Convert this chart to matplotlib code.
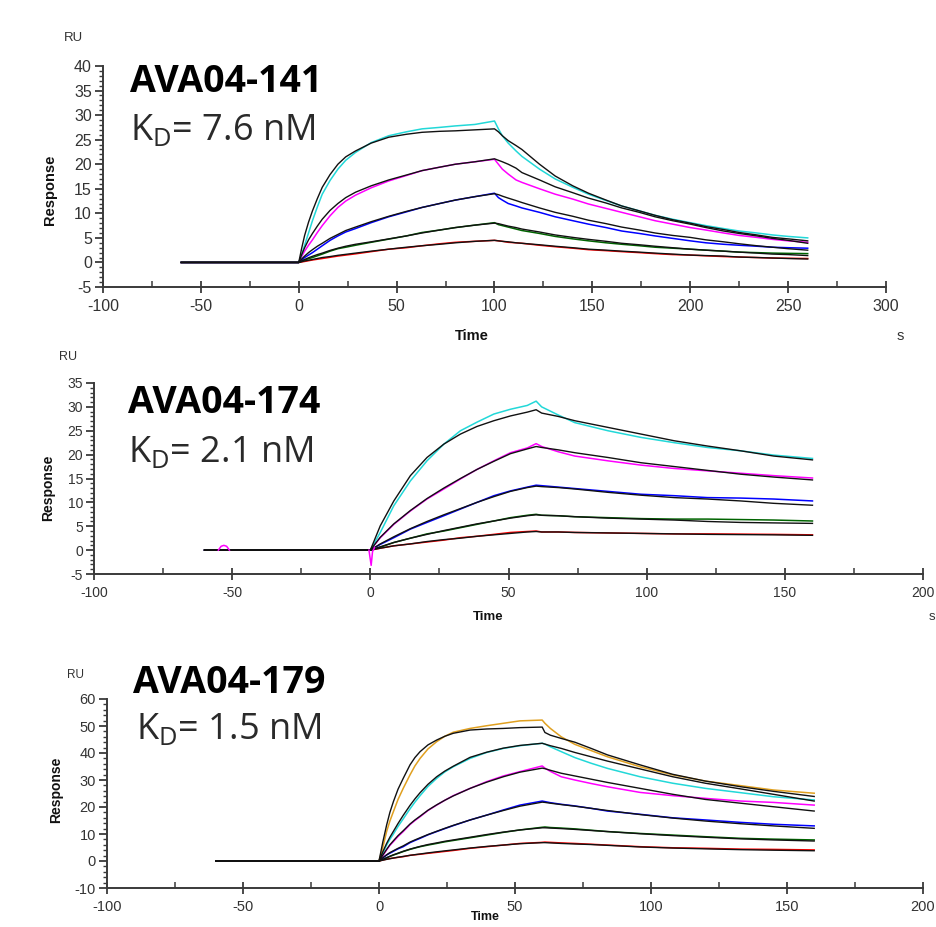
import matplotlib
matplotlib.use('Agg')
import matplotlib.pyplot as plt
from matplotlib.ticker import MultipleLocator

plt.rcParams['font.family'] = ['Liberation Sans', 'DejaVu Sans']
plt.rcParams['axes.unicode_minus'] = False
plt.rcParams['mathtext.fontset'] = 'custom'
plt.rcParams['mathtext.rm'] = 'Open Sans'

# --- sensorgram colours (lowest to highest concentration) ---
RED = '#ff0000'
GREEN = '#006400'
BLUE = '#0000ff'
MAGENTA = '#ff00ff'
CYAN = '#22d8d8'
ORANGE = '#e0a020'

# ---------------- AVA04-141 ----------------
P1_TIME = [-60, 0, 1.5, 3, 5, 7, 9.5, 12, 16, 20, 24, 29, 37, 46, 55, 63, 72, 80, 90, 100,
           102, 104, 107, 111, 114, 123, 131, 140, 148, 157, 165, 174, 182,
           191, 200, 208, 217, 225, 234, 242, 250, 260]
P1_RED = [0, 0, 0.1, 0.2, 0.35, 0.5, 0.65, 0.8, 1.05, 1.3, 1.5, 1.75, 2.2, 2.7, 3.0, 3.4, 3.8, 4.1, 4.3, 4.5,
          4.4, 4.3, 4.1, 4.0, 3.9, 3.5, 3.2, 2.9, 2.6, 2.4, 2.2, 2.0, 1.8,
          1.6, 1.5, 1.35, 1.2, 1.1, 1.0, 0.9, 0.85, 0.8]
P1_RED_FIT = [0, 0, 0.15, 0.3, 0.45, 0.6, 0.8, 1.0, 1.2, 1.45, 1.65, 1.9, 2.3, 2.7, 3.1, 3.4, 3.7, 4.0, 4.3, 4.5,
              4.4, 4.3, 4.2, 4.0, 3.9, 3.6, 3.3, 3.0, 2.7, 2.5, 2.3, 2.1, 1.9,
              1.7, 1.5, 1.4, 1.3, 1.1, 1.0, 0.9, 0.8, 0.7]
P1_GREEN = [0, 0, 0.25, 0.5, 0.75, 1.0, 1.35, 1.7, 2.3, 2.8, 3.1, 3.5, 4.1, 4.75, 5.4, 6.1, 6.6, 7.1, 7.6, 8.1,
            7.7, 7.5, 7.2, 6.8, 6.5, 5.9, 5.3, 4.8, 4.4, 4.0, 3.7, 3.4, 3.1,
            2.9, 2.7, 2.5, 2.3, 2.1, 2.0, 1.9, 1.85, 1.8]
P1_GREEN_FIT = [0, 0, 0.3, 0.6, 0.95, 1.25, 1.6, 1.9, 2.45, 2.9, 3.3, 3.7, 4.2, 4.8, 5.4, 6.0, 6.6, 7.1, 7.6, 8.0,
                7.9, 7.7, 7.4, 7.1, 6.8, 6.2, 5.6, 5.1, 4.7, 4.3, 3.9, 3.6, 3.3,
                3.0, 2.7, 2.5, 2.3, 2.1, 1.9, 1.7, 1.6, 1.4]
P1_BLUE = [0, 0, 0.5, 1.0, 1.5, 2.0, 2.7, 3.4, 4.5, 5.4, 6.2, 6.9, 8.1, 9.3, 10.3, 11.2, 12.0, 12.7, 13.4, 14.1,
           13.2, 12.7, 12.0, 11.5, 11.1, 10.2, 9.3, 8.5, 7.8, 7.1, 6.4, 5.9, 5.4,
           4.9, 4.4, 4.0, 3.7, 3.5, 3.3, 3.1, 3.0, 2.9]
P1_BLUE_FIT = [0, 0, 0.7, 1.3, 2.0, 2.6, 3.3, 3.9, 4.9, 5.7, 6.5, 7.2, 8.3, 9.4, 10.4, 11.2, 12.0, 12.7, 13.4, 14.0,
               13.8, 13.5, 13.1, 12.6, 12.2, 11.1, 10.2, 9.4, 8.6, 7.9, 7.2, 6.6, 6.0,
               5.5, 5.1, 4.6, 4.2, 3.8, 3.4, 3.1, 2.8, 2.5]
P1_MAGENTA = [0, 0, 1.2, 2.3, 3.5, 4.6, 6.1, 7.5, 9.5, 11.2, 12.5, 13.7, 15.2, 16.6, 17.7, 18.7, 19.4, 20.0, 20.5, 21.0,
              20.0, 19.0, 18.0, 16.8, 16.3, 15.0, 13.9, 12.9, 11.9, 11.0, 10.2, 9.3, 8.5,
              7.8, 7.1, 6.6, 6.0, 5.5, 5.1, 4.7, 4.4, 4.1]
P1_MAGENTA_FIT = [0, 0, 1.6, 3.0, 4.6, 5.9, 7.4, 8.8, 10.6, 12.0, 13.2, 14.3, 15.6, 16.8, 17.8, 18.7, 19.4, 20.0, 20.5, 21.1,
                  20.8, 20.5, 20.0, 19.2, 18.3, 16.8, 15.4, 14.2, 13.1, 12.1, 11.1, 10.2, 9.3,
                  8.5, 7.8, 7.1, 6.4, 5.9, 5.4, 4.9, 4.5, 3.9]
P1_CYAN = [0, 0, 1.6, 3.5, 6.0, 8.5, 11.3, 13.9, 16.7, 19.0, 20.8, 22.4, 24.4, 25.8, 26.6, 27.2, 27.5, 27.8, 28.1, 28.8,
           27.2, 25.8, 24.3, 22.7, 21.6, 19.0, 17.0, 15.3, 13.9, 12.6, 11.5, 10.5, 9.6,
           8.8, 8.1, 7.5, 6.9, 6.4, 6.0, 5.6, 5.3, 5.0]
P1_CYAN_FIT = [0, 0, 2.9, 5.5, 8.2, 10.5, 13.0, 15.3, 17.9, 20.0, 21.5, 22.7, 24.3, 25.5, 26.1, 26.5, 26.7, 26.8, 27.0, 27.2,
               26.6, 25.8, 24.8, 23.8, 23.0, 20.0, 17.6, 15.6, 14.1, 12.7, 11.5, 10.5, 9.6,
               8.7, 8.0, 7.3, 6.7, 6.1, 5.6, 5.1, 4.8, 4.4]

# ---------------- AVA04-174 ----------------
P2_TIME = [-60, 0, 3.6, 8.5, 14.5, 20.5, 26.6, 32.6, 38.6, 44.7, 50.7, 56.8, 60,
           62, 68, 74, 86, 98, 110, 122, 134, 146, 160]
P2_RED = [0, 0, 0.4, 0.9, 1.3, 1.7, 2.1, 2.6, 2.9, 3.3, 3.7, 3.9, 4.0,
          3.8, 3.8, 3.7, 3.6, 3.5, 3.4, 3.4, 3.35, 3.3, 3.2]
P2_RED_FIT = [0, 0, 0.4, 0.9, 1.3, 1.8, 2.2, 2.5, 2.9, 3.2, 3.5, 3.8, 3.9,
              3.8, 3.8, 3.7, 3.6, 3.5, 3.4, 3.3, 3.25, 3.2, 3.1]
P2_GREEN = [0, 0, 0.6, 1.6, 2.5, 3.4, 4.0, 4.7, 5.4, 6.1, 6.8, 7.3, 7.5,
            7.3, 7.2, 7.0, 6.8, 6.6, 6.5, 6.5, 6.4, 6.3, 6.1]
P2_GREEN_FIT = [0, 0, 0.7, 1.6, 2.5, 3.3, 4.1, 4.8, 5.5, 6.1, 6.7, 7.2, 7.4,
                7.3, 7.2, 7.0, 6.7, 6.5, 6.3, 6.0, 5.8, 5.7, 5.6]
P2_BLUE = [0, 0, 1.2, 2.6, 4.4, 5.8, 7.2, 8.6, 10.0, 11.4, 12.4, 13.2, 13.6,
           13.5, 13.2, 12.9, 12.3, 11.7, 11.4, 11.0, 10.9, 10.7, 10.3]
P2_BLUE_FIT = [0, 0, 1.3, 2.8, 4.5, 6.0, 7.4, 8.7, 10.0, 11.2, 12.3, 13.1, 13.4,
               13.3, 13.1, 12.8, 12.1, 11.5, 11.0, 10.7, 10.3, 9.8, 9.4]
P2_MAGENTA = [0, 0, 2.6, 5.4, 8.2, 10.7, 12.8, 14.9, 16.9, 18.7, 20.4, 21.4, 22.3,
              21.7, 20.6, 19.7, 18.7, 17.8, 17.1, 16.6, 16.1, 15.6, 15.1]
P2_MAGENTA_FIT = [0, 0, 2.7, 5.5, 8.3, 10.8, 13.0, 15.0, 16.9, 18.6, 20.2, 21.2, 21.7,
                  21.5, 21.0, 20.4, 19.4, 18.3, 17.5, 16.7, 15.9, 15.3, 14.7]
P2_CYAN = [0, 0, 3.7, 9.3, 14.5, 18.7, 22.2, 25.0, 26.8, 28.5, 29.5, 30.3, 31.2,
           30.0, 28.3, 26.7, 25.0, 23.6, 22.5, 21.5, 20.8, 19.9, 19.2]
P2_CYAN_FIT = [0, 0, 5.1, 10.3, 15.6, 19.4, 22.2, 24.3, 25.9, 27.1, 28.1, 28.9, 29.4,
               28.7, 28.0, 27.1, 25.7, 24.3, 22.9, 21.8, 20.8, 19.7, 18.9]
# baseline artefacts of the magenta trace
P2_MAG_BLIP_T = [-55, -54, -53, -52, -51]
P2_MAG_BLIP_V = [0, 0.8, 1.0, 0.8, 0]
P2_MAG_DIP_T = [-0.5, 0.3, 0.8, 1.5]
P2_MAG_DIP_V = [0, -3.2, -0.3, 0.5]

# ---------------- AVA04-179 ----------------
P3_TIME = [-60, 0, 1.4, 2.8, 4.0, 5.3, 7.0, 8.9, 11.4, 13.2, 15.1, 18.0, 21.2, 24.2, 27.3,
           33.5, 39.6, 45.7, 51.8, 60,
           61, 63, 67, 72, 78, 84, 96, 108, 120, 133, 145, 160]
P3_RED = [0, 0, 0.35, 0.7, 0.9, 1.1, 1.35, 1.6, 2.1, 2.3, 2.5, 2.85, 3.2, 3.55, 3.9,
          4.7, 5.3, 5.9, 6.5, 6.9,
          7.0, 6.9, 6.7, 6.5, 6.2, 5.9, 5.3, 4.9, 4.7, 4.4, 4.3, 4.1]
P3_RED_FIT = [0, 0, 0.3, 0.6, 0.85, 1.1, 1.4, 1.7, 2.1, 2.35, 2.6, 3.0, 3.4, 3.75, 4.1,
              4.8, 5.4, 5.9, 6.4, 6.8,
              6.8, 6.7, 6.5, 6.3, 6.1, 5.8, 5.2, 4.8, 4.5, 4.2, 4.0, 3.8]
P3_GREEN = [0, 0, 0.6, 1.2, 1.7, 2.2, 2.8, 3.5, 4.3, 4.8, 5.3, 5.9, 6.5, 7.1, 7.6,
            8.6, 9.6, 10.6, 11.5, 12.5,
            12.6, 12.4, 12.2, 11.9, 11.4, 10.9, 10.2, 9.6, 9.0, 8.4, 8.1, 7.8]
P3_GREEN_FIT = [0, 0, 0.6, 1.2, 1.75, 2.3, 2.9, 3.6, 4.4, 4.9, 5.4, 6.1, 6.7, 7.3, 7.8,
                8.8, 9.8, 10.7, 11.5, 12.3,
                12.3, 12.2, 12.0, 11.7, 11.3, 10.9, 10.1, 9.4, 8.8, 8.2, 7.8, 7.4]
P3_BLUE = [0, 0, 1.1, 2.2, 2.9, 3.6, 4.5, 5.3, 6.8, 7.6, 8.4, 9.7, 10.9, 12.0, 13.1,
           15.2, 17.0, 18.9, 20.7, 22.2,
           22.0, 21.6, 21.0, 20.4, 19.5, 18.5, 17.3, 16.0, 15.2, 14.3, 13.6, 13.0]
P3_BLUE_FIT = [0, 0, 1.2, 2.3, 3.1, 3.8, 4.7, 5.6, 7.0, 7.8, 8.6, 9.8, 11.0, 12.1, 13.2,
               15.2, 17.0, 18.7, 20.3, 21.8,
               21.7, 21.4, 20.9, 20.3, 19.5, 18.7, 17.2, 15.9, 14.8, 13.8, 13.0, 12.1]
P3_MAGENTA = [0, 0, 2.0, 4.1, 5.8, 7.2, 9.1, 10.9, 13.5, 15.0, 16.4, 18.7, 20.7, 22.5, 24.2,
              26.9, 29.4, 31.5, 33.1, 35.2,
              34.4, 33.2, 31.2, 30.0, 28.7, 27.5, 25.4, 24.2, 23.2, 22.2, 21.7, 20.7]
P3_MAGENTA_FIT = [0, 0, 2.2, 4.3, 6.0, 7.5, 9.4, 11.2, 13.7, 15.2, 16.6, 18.8, 20.8, 22.5, 24.1,
                  26.9, 29.2, 31.2, 32.9, 34.4,
                  34.2, 33.6, 32.5, 31.5, 30.3, 29.1, 26.9, 24.7, 22.8, 21.4, 20.1, 18.5]
P3_CYAN = [0, 0, 3.0, 5.9, 8.0, 10.0, 12.8, 15.6, 19.3, 21.8, 24.2, 27.6, 30.6, 33.0, 34.9,
           38.0, 40.2, 41.7, 42.7, 43.6,
           43.3, 42.3, 40.5, 38.3, 36.2, 34.3, 31.2, 28.8, 26.9, 25.3, 23.8, 22.6]
P3_CYAN_FIT = [0, 0, 3.4, 6.5, 8.8, 11.0, 13.9, 16.9, 20.6, 23.0, 25.3, 28.4, 31.2, 33.3, 35.1,
               38.4, 40.3, 41.8, 42.8, 43.6,
               43.3, 42.7, 41.7, 40.2, 38.6, 37.0, 34.1, 31.2, 28.8, 26.7, 24.7, 22.2]
P3_ORANGE = [0, 0, 5.0, 10.9, 14.8, 18.3, 22.8, 26.9, 31.9, 35.2, 38.0, 41.5, 44.2, 46.2, 47.7,
             49.1, 50.1, 51.0, 51.9, 52.2,
             51.0, 49.1, 46.0, 43.2, 40.9, 38.6, 34.9, 31.9, 29.6, 27.9, 26.3, 25.1]
P3_ORANGE_FIT = [0, 0, 7.0, 13.3, 18.0, 22.0, 26.6, 30.6, 35.6, 38.3, 40.5, 43.0, 44.8, 46.2, 47.3,
                 48.5, 48.9, 49.1, 49.4, 49.6,
                 47.6, 46.6, 45.4, 44.0, 41.7, 39.3, 35.6, 32.1, 29.6, 27.5, 25.8, 23.9]

TITLES = ['AVA04-141', 'AVA04-174', 'AVA04-179']
KD_LABELS = [r'K$_\mathrm{D}$= 7.6 nM', r'K$_\mathrm{D}$= 2.1 nM', r'K$_\mathrm{D}$= 1.5 nM']

W, H = 937, 927
AX_COLOR = '#3a3a3a'
TICK_COLOR = '#333333'


def fx(px):
    return px / W


def fy(py):
    return 1 - py / H


def setup_axes(rect_px, xlim, ylim, ymajor, yminor, tick_size):
    """rect_px = (left, top, right, bottom) in image pixels"""
    l, t, r, b = rect_px
    ax = fig.add_axes([fx(l), fy(b), (r - l) / W, (b - t) / H])
    ax.set_xlim(*xlim)
    ax.set_ylim(*ylim)
    for s in ('top', 'right'):
        ax.spines[s].set_visible(False)
    for s in ('left', 'bottom'):
        ax.spines[s].set_color(AX_COLOR)
        ax.spines[s].set_linewidth(1.4)
    ax.xaxis.set_major_locator(MultipleLocator(50))
    ax.xaxis.set_minor_locator(MultipleLocator(25))
    ax.yaxis.set_major_locator(MultipleLocator(ymajor))
    ax.yaxis.set_minor_locator(MultipleLocator(yminor))
    ax.tick_params(axis='x', which='major', direction='inout', length=9, width=1.3,
                   color=AX_COLOR, labelsize=tick_size, labelcolor=TICK_COLOR, pad=4)
    ax.tick_params(axis='x', which='minor', direction='in', length=4, width=1.1, color=AX_COLOR)
    ax.tick_params(axis='y', which='major', direction='out', length=6, width=1.3,
                   color=AX_COLOR, labelsize=tick_size, labelcolor=TICK_COLOR, pad=2)
    ax.tick_params(axis='y', which='minor', direction='out', length=3, width=1.0, color=AX_COLOR)
    ax.patch.set_alpha(0)
    return ax


def draw_traces(ax, time, traces):
    # measured curves first, black fitted curves on top
    for values, fit, color in traces:
        ax.plot(time, values, color=color, lw=1.1, zorder=2)
    for values, fit, color in traces:
        ax.plot(time, fit, color='#111111', lw=1.0, zorder=3)


fig = plt.figure(figsize=(W / 100, H / 100), dpi=100)

# panel 1
ax1 = setup_axes((103, 66, 886, 287), (-100, 300), (-5, 40), 5, 1, 11.5)
draw_traces(ax1, P1_TIME, [
    (P1_RED, P1_RED_FIT, RED),
    (P1_GREEN, P1_GREEN_FIT, GREEN),
    (P1_BLUE, P1_BLUE_FIT, BLUE),
    (P1_MAGENTA, P1_MAGENTA_FIT, MAGENTA),
    (P1_CYAN, P1_CYAN_FIT, CYAN),
])

# panel 2
ax2 = setup_axes((94, 383, 923, 574), (-100, 200), (-5, 35), 5, 1, 10)
draw_traces(ax2, P2_TIME, [
    (P2_RED, P2_RED_FIT, RED),
    (P2_GREEN, P2_GREEN_FIT, GREEN),
    (P2_BLUE, P2_BLUE_FIT, BLUE),
    (P2_MAGENTA, P2_MAGENTA_FIT, MAGENTA),
    (P2_CYAN, P2_CYAN_FIT, CYAN),
])
ax2.plot(P2_MAG_BLIP_T, P2_MAG_BLIP_V, color=MAGENTA, lw=1.1, zorder=4)
ax2.plot(P2_MAG_DIP_T, P2_MAG_DIP_V, color=MAGENTA, lw=1.1, zorder=4)

# panel 3
ax3 = setup_axes((107, 699, 923, 888), (-100, 200), (-10, 60), 10, 2, 10.5)
draw_traces(ax3, P3_TIME, [
    (P3_RED, P3_RED_FIT, RED),
    (P3_GREEN, P3_GREEN_FIT, GREEN),
    (P3_BLUE, P3_BLUE_FIT, BLUE),
    (P3_MAGENTA, P3_MAGENTA_FIT, MAGENTA),
    (P3_CYAN, P3_CYAN_FIT, CYAN),
    (P3_ORANGE, P3_ORANGE_FIT, ORANGE),
])

# axis captions placed like the instrument software export
captions = [
    # (RU x,y), (Response x,y), (Time x,y), (s x,y), size
    ((73, 38), (50, 190), (472, 336), (900, 336), 10.5),
    ((68, 357), (48, 488), (488, 617), (932, 617), 9.5),
    ((76, 675), (56, 790), (485, 917), (None, None), 9),
]
for (ru, resp, tim, s, size) in captions:
    fig.text(fx(ru[0]), fy(ru[1]), 'RU', ha='center', va='center', fontsize=min(size, 10) - 0.5,
             color=TICK_COLOR)
    fig.text(fx(resp[0]), fy(resp[1]), 'Response', ha='center', va='center', rotation=90,
             fontsize=max(size, 10), fontweight='bold', color='#111111')
    fig.text(fx(tim[0]), fy(tim[1]), 'Time', ha='center', va='center',
             fontsize=size, fontweight='bold', color='#111111')
    if s[0] is not None:
        fig.text(fx(s[0]), fy(s[1]), 's', ha='center', va='center', fontsize=size,
                 color=TICK_COLOR)

# compound names and affinities
title_pos = [(130, 92), (128, 413), (133, 693)]
kd_pos = [(130, 140), (128, 462), (136, 739)]
for name, kd, (tx, ty), (kx, ky) in zip(TITLES, KD_LABELS, title_pos, kd_pos):
    fig.text(fx(tx), fy(ty), name, ha='left', va='baseline', fontsize=27,
             fontweight='bold', family='Open Sans', color='black')
    fig.text(fx(kx), fy(ky), kd, ha='left', va='baseline', fontsize=26,
             family='Open Sans', color='#2a2a2a')

fig.savefig('out.png', dpi=100)
